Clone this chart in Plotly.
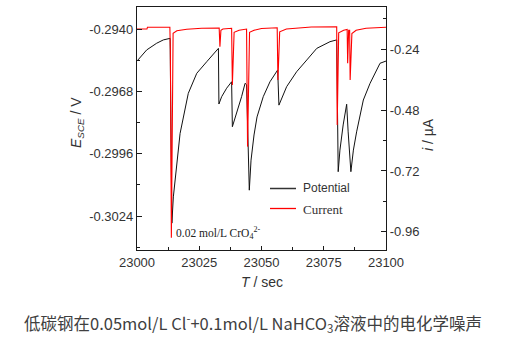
import plotly.graph_objects as go

# Potential (black), left axis, V
time_pot = [23000.0, 23003.9, 23007.9, 23010.6, 23013.3, 23014.0, 23014.6, 23015.9, 23017.3,
            23020.6, 23024.0, 23028.0, 23032.7, 23032.9, 23034.0, 23036.0, 23038.0, 23038.3,
            23040.0, 23042.0, 23043.4, 23044.0, 23045.1, 23045.8, 23047.0, 23048.2, 23050.7,
            23053.4, 23056.5, 23057.0, 23060.1, 23064.1, 23068.2, 23072.2, 23077.5, 23080.2,
            23080.8, 23081.5, 23082.8, 23084.2, 23084.8, 23085.9, 23086.9, 23088.2, 23090.9,
            23093.6, 23097.6, 23100.0]
potential = [-0.29544, -0.29494, -0.29464, -0.29449, -0.29442, -0.30272, -0.30154, -0.30004, -0.29869,
             -0.29689, -0.29599, -0.29547, -0.29487, -0.29737, -0.29704, -0.29666, -0.29637, -0.29839,
             -0.29779, -0.29704, -0.29644, -0.29650, -0.30124, -0.29989, -0.29876, -0.29795, -0.29704,
             -0.29637, -0.29584, -0.29742, -0.29659, -0.29592, -0.29539, -0.29487, -0.29457, -0.29449,
             -0.30041, -0.29944, -0.29831, -0.29738, -0.29862, -0.30041, -0.29944, -0.29862, -0.29719,
             -0.29644, -0.29554, -0.29544]

# Current (red), right axis, uA
time_cur = [23000.0, 23004.0, 23004.2, 23013.2, 23013.4, 23013.8, 23014.5, 23016.0, 23020.0,
            23026.0, 23033.0, 23033.3, 23033.7, 23034.5, 23038.0, 23038.3, 23039.0, 23041.0,
            23044.0, 23044.4, 23045.2, 23047.0, 23050.0, 23056.3, 23056.6, 23057.3, 23060.0,
            23065.0, 23070.0, 23080.2, 23080.4, 23081.0, 23083.0, 23084.4, 23084.6, 23085.0,
            23085.4, 23085.6, 23086.3, 23088.0, 23092.0, 23100.0]
current = [-0.160, -0.160, -0.153, -0.153, -0.243, -0.984, -0.177, -0.167, -0.161,
           -0.157, -0.156, -0.230, -0.165, -0.160, -0.157, -0.381, -0.173, -0.165,
           -0.160, -0.624, -0.173, -0.165, -0.158, -0.155, -0.361, -0.171, -0.160,
           -0.155, -0.152, -0.151, -0.539, -0.175, -0.165, -0.162, -0.295, -0.165,
           -0.165, -0.361, -0.178, -0.165, -0.157, -0.153]

x_ticks = [23000, 23025, 23050, 23075, 23100]
e_ticks = [-0.2940, -0.2968, -0.2996, -0.3024]
e_labels = ["-0.2940", "-0.2968", "-0.2996", "-0.3024"]
i_ticks = [-0.24, -0.48, -0.72, -0.96]
i_labels = ["-0.24", "-0.48", "-0.72", "-0.96"]

AX = "#1a1a1a"
TXT = "#333333"
FONT = "Liberation Sans, Arial, sans-serif"
SERIF = "Liberation Serif, Times New Roman, serif"

fig = go.Figure()
fig.add_trace(go.Scatter(x=time_pot, y=potential, mode="lines", name="Potential",
                         line=dict(color="#111111", width=1.0), yaxis="y"))
fig.add_trace(go.Scatter(x=time_cur, y=current, mode="lines", name="Current",
                         line=dict(color="#ff0000", width=1.1), yaxis="y2"))

fig.update_layout(
    width=521, height=351,
    margin=dict(l=137, r=135, t=7, b=101),
    paper_bgcolor="white", plot_bgcolor="white",
    showlegend=False,
    font=dict(family=FONT, size=13, color=TXT),
    xaxis=dict(range=[23000, 23100], tickvals=x_ticks, tickformat="d",
               ticks="inside", ticklen=4, tickwidth=1, tickcolor=AX,
               minor=dict(dtick=12.5, ticks="inside", ticklen=2.5, tickcolor=AX),
               showline=True, linecolor=AX, linewidth=1.3, mirror=True,
               showgrid=False, zeroline=False,
               tickfont=dict(size=13, color=TXT, family=FONT)),
    yaxis=dict(range=[-0.303927, -0.293012], tickvals=e_ticks, ticktext=e_labels,
               ticks="inside", ticklen=5, tickwidth=1, tickcolor=AX,
               minor=dict(dtick=0.0014, tick0=-0.294, ticks="inside", ticklen=3, tickcolor=AX),
               showline=True, linecolor=AX, linewidth=1.3,
               showgrid=False, zeroline=False,
               tickfont=dict(size=13, color=TXT, family=FONT)),
    yaxis2=dict(range=[-1.032, -0.073], tickvals=i_ticks, ticktext=i_labels,
                overlaying="y", side="right",
                ticks="inside", ticklen=5, tickwidth=1, tickcolor=AX,
                minor=dict(dtick=0.12, tick0=-0.24, ticks="inside", ticklen=3, tickcolor=AX),
                showline=True, linecolor=AX, linewidth=1.3,
                showgrid=False, zeroline=False,
                tickfont=dict(size=13, color=TXT, family=FONT)),
)

def px_x(px):
    return (px - 137) / 249.0

def px_y(py):
    return (250 - py) / 243.0

annotations = [
    dict(text="<i>E</i><sub><i>SCE</i></sub> / V", x=px_x(77), y=px_y(123), textangle=-90,
         font=dict(size=14, color=TXT, family=FONT)),
    dict(text="<i>i</i> / µA", x=px_x(428), y=px_y(135), textangle=-90,
         font=dict(size=14, color=TXT, family=FONT)),
    dict(text="<i>T</i> / sec", x=px_x(262), y=px_y(282),
         font=dict(size=14, color=TXT, family=FONT)),
    dict(text="0.02 mol/L CrO<sub>4</sub><sup>2-</sup>", x=px_x(174), y=px_y(233), xanchor="left",
         font=dict(size=11.5, color="#222222", family=SERIF)),
    dict(text="Potential", x=px_x(301), y=px_y(188), xanchor="left",
         font=dict(size=12, color=TXT, family=FONT)),
    dict(text="Current", x=px_x(301), y=px_y(209), xanchor="left",
         font=dict(size=13, color=TXT, family=SERIF)),
    dict(text="低碳钢在0.05mol/L Cl<sup>-</sup>+0.1mol/L NaHCO<sub>3</sub>溶液中的电化学噪声",
         x=px_x(252.5), y=px_y(323),
         font=dict(size=16.5, color="#404040", family="Noto Sans CJK SC, Noto Sans, sans-serif")),
]
for a in annotations:
    a.update(xref="paper", yref="paper", showarrow=False)
    a.setdefault("xanchor", "center")
    a.setdefault("yanchor", "middle")
fig.update_layout(annotations=annotations)

fig.add_shape(type="line", xref="paper", yref="paper",
              x0=px_x(270), x1=px_x(296), y0=px_y(188.5), y1=px_y(188.5),
              line=dict(color="#333333", width=1.5))
fig.add_shape(type="line", xref="paper", yref="paper",
              x0=px_x(270), x1=px_x(296), y0=px_y(208.5), y1=px_y(208.5),
              line=dict(color="#ff0000", width=1.3))

fig.write_html("out.html")
